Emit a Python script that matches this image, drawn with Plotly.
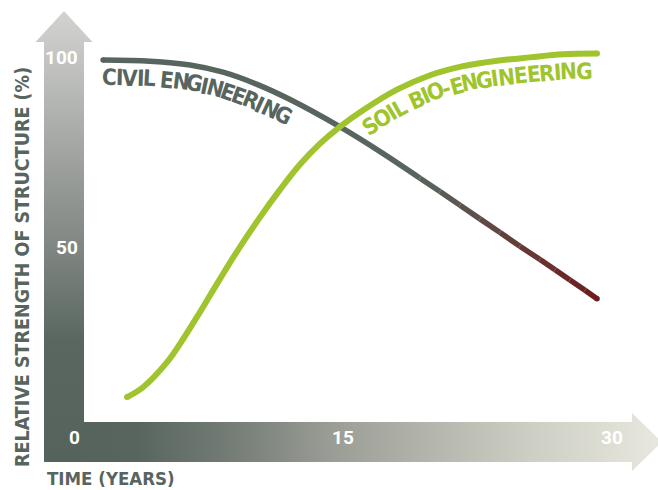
import numpy as np
import plotly.graph_objects as go

# Relative strength of structure (%) over time (years)
civil_years = [1.62, 4.24, 6.47, 8.31, 10.21, 12.05, 14.84, 17.07, 19.30, 20.41, 21.53, 22.64,
               23.76, 24.87, 25.99, 26.83, 27.66, 28.50, 29.17]
civil_strength = [99.2, 98.9, 97.9, 96.0, 92.8, 88.8, 81.6, 75.1, 68.1, 64.6, 61.0, 57.4,
                  53.8, 50.2, 46.7, 44.0, 41.3, 38.6, 36.4]

bio_years = [2.96, 3.85, 5.19, 5.91, 6.86, 7.59, 8.31, 8.98, 10.37, 11.49, 12.60, 13.72, 14.84,
             16.12, 18.01, 19.86, 21.70, 23.59, 25.43, 27.27, 29.17]
bio_strength = [10.5, 13.1, 19.7, 24.5, 31.6, 37.3, 42.9, 48.0, 57.8, 65.1, 71.7, 77.2, 81.7,
                86.0, 91.4, 95.2, 97.6, 99.0, 99.9, 100.7, 100.9]

x_ticks = [0, 15, 30]
y_ticks = [50, 100]

# ---- page geometry (px) and axis scale ----
W, H = 658, 490
X0, SX = 74.0, 17.93     # pixel of year 0, px per year
Y0, SY = 437.0, 3.8      # pixel of 0 %, px per percent

def to_px(x, y):
    return X0 + SX * np.asarray(x, float), Y0 - SY * np.asarray(y, float)

def to_data(px, py):
    return (np.asarray(px, float) - X0) / SX, (Y0 - np.asarray(py, float)) / SY

SLATE = "#58655f"
LIME = "#a0c42d"
RUST = "#6e1b1b"
FONT_COND = "DejaVu Sans Condensed, Liberation Sans Narrow, Roboto"

fig = go.Figure()

# ---- gradient arrows used as axes ----
xarrow = [(44, 422), (632, 422), (632, 413), (662, 442), (632, 471), (632, 462), (44, 462), (44, 422)]
yarrow = [(44, 462), (84, 462), (84, 42), (92.5, 42), (64, 11), (35.5, 42), (44, 42), (44, 462)]

ax_x, ax_y = to_data(*zip(*xarrow))
fig.add_trace(go.Scatter(
    x=ax_x, y=ax_y, mode="lines", fill="toself", line=dict(width=0),
    fillgradient=dict(type="horizontal", colorscale=[
        [0.0, "#56635d"], [0.15, "#58655f"], [0.30, "#737c75"], [0.464, "#9a9d95"],
        [0.626, "#b4b6ad"], [0.788, "#cdcec4"], [0.95, "#e2e2d8"], [1.0, "#e8e8df"]]),
    hoverinfo="skip", showlegend=False))

ay_x, ay_y = to_data(*zip(*yarrow))
fig.add_trace(go.Scatter(
    x=ay_x, y=ay_y, mode="lines", fill="toself", line=dict(width=0),
    fillgradient=dict(type="vertical", colorscale=[
        [0.0, "#56635d"], [0.27, "#5a6761"], [0.47, "#7f8581"], [0.69, "#a2a5a1"],
        [0.93, "#c9cac8"], [1.0, "#d2d3d1"]]),
    hoverinfo="skip", showlegend=False))

# ---- civil engineering curve: slate, fading to rust in its later years ----
fade_from = 19.30
split = civil_years.index(fade_from)
fig.add_trace(go.Scatter(
    x=civil_years[:split + 1], y=civil_strength[:split + 1], mode="lines",
    line=dict(color=SLATE, width=5.5, shape="spline"), hoverinfo="skip", showlegend=False))

def mix(c1, c2, t):
    a = [int(c1[i:i + 2], 16) for i in (1, 3, 5)]
    b = [int(c2[i:i + 2], 16) for i in (1, 3, 5)]
    return "rgb({},{},{})".format(*[round(p + (q - p) * t) for p, q in zip(a, b)])

span = civil_years[-1] - fade_from
for i in range(split, len(civil_years) - 1):
    mid = 0.5 * (civil_years[i] + civil_years[i + 1])
    t = (mid - fade_from) / span
    fig.add_trace(go.Scatter(
        x=civil_years[i:i + 2], y=civil_strength[i:i + 2], mode="lines",
        line=dict(color=mix(SLATE, RUST, t), width=5.5), hoverinfo="skip", showlegend=False))

# rounded ends
fig.add_trace(go.Scatter(
    x=[civil_years[0], civil_years[-1]], y=[civil_strength[0], civil_strength[-1]],
    mode="markers", marker=dict(size=5.5, color=[SLATE, RUST], line=dict(width=0)),
    hoverinfo="skip", showlegend=False))

# ---- soil bio-engineering curve ----
fig.add_trace(go.Scatter(
    x=bio_years, y=bio_strength, mode="lines",
    line=dict(color=LIME, width=6, shape="spline"), hoverinfo="skip", showlegend=False))
fig.add_trace(go.Scatter(
    x=[bio_years[0], bio_years[-1]], y=[bio_strength[0], bio_strength[-1]],
    mode="markers", marker=dict(size=6, color=LIME, line=dict(width=0)),
    hoverinfo="skip", showlegend=False))

# ---- curved series labels, letter by letter along each curve ----
ADV = {"C": 0.66, "I": 0.335, "V": 0.70, "L": 0.575, "E": 0.615, "N": 0.755, "G": 0.74,
       "R": 0.69, "S": 0.65, "O": 0.765, "B": 0.685, "-": 0.375, " ": 0.31}

def curved_label(text, xs, ys, start_px, end_px, offset, size, color):
    px, py = to_px(xs, ys)
    s = np.concatenate([[0.0], np.cumsum(np.hypot(np.diff(px), np.diff(py)))])
    s_start = np.interp(start_px, px, s)
    s_end = np.interp(end_px, px, s)
    adv = np.array([ADV.get(c, 0.65) for c in text])
    adv = adv / adv.sum() * (s_end - s_start)
    centers = s_start + np.cumsum(adv) - adv / 2
    for ch, sc in zip(text, centers):
        if ch == " ":
            continue
        cx, cy = np.interp(sc, s, px), np.interp(sc, s, py)
        tx = np.interp(sc + 12, s, px) - np.interp(sc - 12, s, px)
        ty = np.interp(sc + 12, s, py) - np.interp(sc - 12, s, py)
        n = np.hypot(tx, ty)
        tx, ty = tx / n, ty / n
        lx, ly = cx - ty * offset, cy + tx * offset
        dx, dy = to_data(lx, ly)
        fig.add_annotation(
            x=float(dx), y=float(dy), text=ch, showarrow=False,
            xanchor="center", yanchor="middle",
            textangle=float(np.degrees(np.arctan2(ty, tx))),
            font=dict(family=FONT_COND, size=size, color=color, weight=700))

curved_label("CIVIL ENGINEERING", civil_years, civil_strength, 103, 298, 17, 22.5, SLATE)
curved_label("SOIL BIO-ENGINEERING", bio_years, bio_strength, 355, 592, 17, 22.5, LIME)

# ---- tick labels inside the arrows ----
TICK_FONT = dict(family="Roboto", size=19, color="white", weight=700)
for v in x_ticks:
    fig.add_annotation(x=v, y=0, text=str(v), showarrow=False,
                       xanchor="center", yanchor="middle", font=TICK_FONT)
for v in y_ticks:
    fig.add_annotation(x=0, y=v, text=str(v), showarrow=False, xshift=6,
                       xanchor="right", yanchor="middle", font=TICK_FONT)

# ---- axis titles ----
fig.add_annotation(x=45 / W, y=1 - 478 / H, xref="paper", yref="paper",
                   text="TIME (YEARS)", showarrow=False, xanchor="left", yanchor="middle",
                   font=dict(family=FONT_COND, size=18.5, color=SLATE, weight=700))
fig.add_annotation(x=22 / W, y=1 - 267 / H, xref="paper", yref="paper",
                   text="RELATIVE STRENGTH OF STRUCTURE (%)", showarrow=False, textangle=-90,
                   xanchor="center", yanchor="middle",
                   font=dict(family=FONT_COND, size=19.5, color=SLATE, weight=700))

x_lo, _ = to_data(0, 0)
x_hi, _ = to_data(W, 0)
_, y_hi = to_data(0, 0)
_, y_lo = to_data(0, H)

fig.update_layout(
    width=W, height=H, margin=dict(l=0, r=0, t=0, b=0),
    paper_bgcolor="white", plot_bgcolor="white", showlegend=False,
    xaxis=dict(range=[float(x_lo), float(x_hi)], visible=False, fixedrange=True),
    yaxis=dict(range=[float(y_lo), float(y_hi)], visible=False, fixedrange=True),
)

fig.write_html("out.html", config={"displayModeBar": False})
